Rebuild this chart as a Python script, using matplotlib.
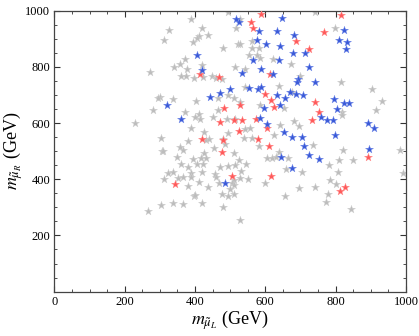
import numpy as np
import matplotlib
matplotlib.use('Agg')
import matplotlib.pyplot as plt
from matplotlib.ticker import MultipleLocator

plt.rcParams['font.family'] = 'serif'
plt.rcParams['font.serif'] = ['Liberation Serif', 'DejaVu Serif']
plt.rcParams['mathtext.fontset'] = 'stix'

# gray points (m_muL, m_muR) in GeV
gray_x = [389, 326, 313, 410, 405, 421, 436, 393, 481, 421, 372, 358, 339, 377, 272,
          360, 374, 396, 422, 448, 460, 477, 301, 296, 336, 402, 464, 280, 372, 464,
          410, 495, 742, 529, 516, 562, 522, 529, 562, 581, 554, 576, 586, 621, 674,
          514, 543, 638, 543, 495, 700, 676, 510, 529, 584, 652, 797, 816, 904, 932,
          914, 818, 229, 303, 389, 401, 413, 451, 379, 426, 432, 440, 453, 479, 306,
          310, 358, 365, 348, 394, 426, 418, 432, 361, 381, 405, 422, 472, 322, 337,
          389, 420, 457, 313, 353, 367, 388, 460, 381, 410, 438, 467, 396, 401, 477,
          336, 365, 420, 303, 267, 481, 491, 514, 641, 681, 697, 624, 543, 557, 495,
          540, 562, 486, 583, 735, 510, 605, 619, 631, 640, 665, 526, 495, 514, 546,
          532, 659, 703, 510, 529, 551, 505, 600, 511, 500, 510, 495, 657, 697, 742,
          527, 818, 821, 983, 809, 780, 850, 806, 992, 783, 802, 777, 774, 845]
gray_y = [972, 930, 896, 909, 903, 940, 915, 888, 867, 808, 827, 811, 800, 792, 781,
          769, 767, 761, 764, 767, 761, 756, 693, 691, 684, 680, 690, 646, 638, 646,
          634, 996, 996, 972, 939, 891, 880, 883, 867, 867, 844, 844, 832, 827, 810,
          801, 792, 731, 729, 699, 768, 711, 688, 675, 664, 654, 937, 747, 723, 678,
          646, 638, 602, 547, 583, 622, 616, 622, 536, 569, 539, 543, 510, 543, 500,
          500, 515, 504, 480, 472, 495, 476, 476, 453, 444, 456, 456, 444, 424, 426,
          424, 426, 417, 400, 403, 409, 409, 409, 377, 391, 373, 385, 340, 344, 346,
          316, 312, 314, 308, 287, 300, 616, 614, 593, 607, 590, 557, 578, 581, 563,
          547, 547, 524, 518, 521, 492, 474, 476, 480, 498, 474, 468, 447, 450, 453,
          429, 435, 426, 397, 403, 400, 385, 385, 379, 365, 346, 340, 340, 370, 371,
          255, 628, 504, 504, 468, 450, 468, 426, 421, 397, 382, 347, 318, 293]

# blue points
blue_x = [405, 421, 443, 470, 320, 517, 526, 648, 581, 633, 681, 576, 602, 641, 678,
          714, 564, 638, 723, 589, 535, 621, 693, 690, 740, 500, 554, 578, 589, 633,
          655, 671, 686, 707, 595, 643, 823, 811, 833, 829, 795, 825, 837, 804, 361,
          484, 586, 605, 652, 676, 705, 711, 725, 752, 646, 676, 757, 776, 793, 893,
          909, 797, 894]
blue_y = [842, 789, 693, 708, 664, 970, 960, 974, 929, 927, 915, 895, 880, 874, 850,
          850, 824, 824, 800, 791, 780, 773, 756, 745, 747, 723, 725, 723, 729, 699,
          690, 709, 705, 699, 652, 664, 930, 895, 889, 863, 684, 673, 673, 650, 614,
          385, 619, 595, 567, 551, 549, 519, 488, 471, 478, 441, 622, 610, 610, 601,
          581, 557, 506]

# red points
red_x = [414, 469, 483, 588, 559, 564, 688, 723, 612, 598, 617, 529, 624, 741, 752,
         814, 766, 470, 420, 480, 477, 344, 510, 535, 574, 605, 526, 578, 611, 733,
         505, 617, 893, 826, 812]
red_y = [775, 764, 654, 990, 960, 940, 891, 865, 773, 705, 682, 664, 658, 676, 638,
         986, 925, 604, 545, 539, 496, 382, 610, 610, 616, 581, 571, 545, 518, 610,
         412, 411, 478, 373, 359]

fig = plt.figure(figsize=(4.19, 3.36), dpi=100)
ax = fig.add_axes([0.1298, 0.1321, 0.839, 0.836])

ms = 36
ax.scatter(gray_x, gray_y, marker='*', s=ms, c='#bdbdbd', edgecolors='#cfcfcf', linewidths=0.3, zorder=2)
ax.scatter(red_x, red_y, marker='*', s=ms, c='#ff5a5a', edgecolors='#ff8a8a', linewidths=0.3, zorder=3)
ax.scatter(blue_x, blue_y, marker='*', s=ms, c='#3a5ad8', edgecolors='#7088e8', linewidths=0.3, zorder=4)

ax.set_xlim(0, 1000)
ax.set_ylim(0, 1000)
ax.xaxis.set_major_locator(MultipleLocator(200))
ax.xaxis.set_minor_locator(MultipleLocator(50))
ax.yaxis.set_minor_locator(MultipleLocator(50))
ax.set_yticks([200, 400, 600, 800, 1000])
ax.tick_params(which='both', direction='in', top=True, right=True, labelsize=9, colors='#333333', labelcolor='black', pad=3)
ax.tick_params(which='major', length=4, width=0.8)
ax.tick_params(which='minor', length=2.5, width=0.6)
for sp in ax.spines.values():
    sp.set_color('#444444')
    sp.set_linewidth(0.9)

ax.set_xlabel(r'$m_{\tilde{\mu}_L}$ (GeV)', fontsize=13)
ax.set_ylabel(r'$m_{\tilde{\mu}_R}$ (GeV)', fontsize=13)
ax.xaxis.set_label_coords(0.5, -0.058)
ax.yaxis.set_label_coords(-0.085, 0.5)

fig.savefig('out.png', dpi=100)
